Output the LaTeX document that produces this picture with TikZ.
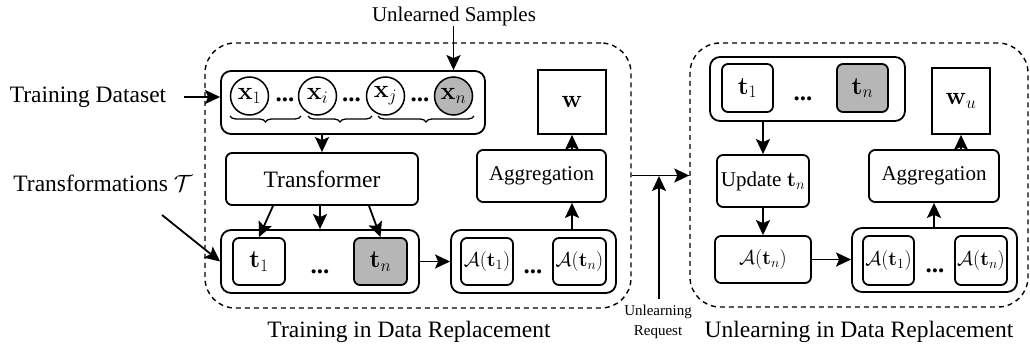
\RequirePackage{fix-cm}
\documentclass[tikz,border=0pt]{standalone}
\usepackage[no-math]{fontspec}
\setmainfont{Liberation Serif}
\usetikzlibrary{arrows.meta,calc,decorations.pathreplacing}

\definecolor{shade}{RGB}{182,182,182}

\newcommand\szL{\fontsize{23.5}{27}\selectfont}
\newcommand\szX{\fontsize{25}{29}\selectfont}
\newcommand\szM{\fontsize{21}{25}\selectfont}
\newcommand\szS{\fontsize{20}{24}\selectfont}
\newcommand\szT{\fontsize{15}{20}\selectfont}

\tikzset{
  lw/.style={line width=1.8pt},
  rbox/.style={lw, draw, rounded corners=6pt, inner sep=0pt, align=center},
  grp/.style={lw, draw, rounded corners=10pt, inner sep=0pt},
  sqbox/.style={lw, draw, inner sep=0pt},
  smp/.style={circle, draw, line width=1.5pt, minimum size=38pt, inner sep=0pt, font=\szX},
  sel/.style={fill=shade},
  dbox/.style={draw, line width=1.4pt, dash pattern=on 5pt off 4pt, rounded corners=30pt, inner sep=0pt},
  tip/.tip={Stealth[length=15pt,width=14pt,inset=3pt]},
  arr/.style={lw, -tip},
  brc/.style={line width=1.3pt, decorate, decoration={brace, mirror, amplitude=6pt}},
  dots/.style={anchor=base, inner sep=0pt, font=\szX\bfseries},
  lbl/.style={inner sep=0pt, align=center}
}

\begin{document}
\begin{tikzpicture}[x=1pt, y=-1pt]
\useasboundingbox (0,0) rectangle (1030,350);

% ---------- training phase ----------
\node[dbox, minimum width=426, minimum height=265] (trainbox) at (418,175.5) {};

\node[grp, minimum width=264, minimum height=63] (dsg) at (353,102.5) {};
\node[smp] (x1) at (249.5,96) {$\mathbf{x}_1$};
\node[smp] (xi) at (317.5,96) {$\mathbf{x}_i$};
\node[smp] (xj) at (385.5,96) {$\mathbf{x}_j$};
\node[smp, sel] (xn) at (453.5,96) {$\mathbf{x}_n$};
\node[dots] (dx1) at (285,102) {...};
\node[dots] (dx2) at (351.5,102) {...};
\node[dots] (dx3) at (420,102) {...};
\draw[brc] (230,116) -- (301,116);
\draw[brc] (308,116) -- (372,116);
\draw[brc] (378,116) -- (474,116);

\node[lbl, font=\szM] (uns) at (454,16) {Unlearned Samples};
\draw[arr] (uns.south -| xn) -- (xn |- dsg.north);

\node[lbl, font=\szL] (tds) at (88,97) {Training Dataset};
\draw[arr] ($(tds.east)+(18,0)$) -- (tds.east -| dsg.west);

\node[rbox, font=\szL, minimum width=192, minimum height=52] (tr) at (322,179) {Transformer};
\draw[arr] (tr.north |- dsg.south) -- (tr.north);

\node[grp, minimum width=198, minimum height=63] (tg) at (320,261.5) {};
\node[rbox, font=\szX, minimum width=52, minimum height=47] (t1) at (259,261.5) {$\mathbf{t}_1$};
\node[rbox, sel, font=\szX, minimum width=53, minimum height=47] (tn) at (380.5,261.5) {$\mathbf{t}_n$};
\node[dots] (dt) at (320,273) {...};

\draw[arr] ($(tr.south)+(-49,0)$) -- (t1.north);
\draw[arr] (tr.south -| tg.north) -- (tg.north);
\draw[arr] ($(tr.south)+(47,0)$) -- (tn.north);

\node[lbl, font=\szL] (tfl) at (103,183) {Transformations $\mathcal{T}$};
\coordinate (tfs) at (162,215);
\draw[arr] (tfs) -- (tg.west);

\node[grp, minimum width=165, minimum height=63] (ag) at (533.5,261.5) {};
\node[rbox, font=\szS, minimum width=52, minimum height=47] (a1) at (487,261.5) {$\mathcal{A}(\mathbf{t}_1)$};
\node[rbox, font=\szS, minimum width=53, minimum height=47] (an) at (579.5,261.5) {$\mathcal{A}(\mathbf{t}_n)$};
\node[dots] (da) at (533,273) {...};
\draw[arr] (tg.east) -- (ag.west);

\node[rbox, font=\szM, minimum width=129, minimum height=52] (agg) at (541.5,176) {Aggregation};
\node[sqbox, font=\szX, minimum width=68, minimum height=64] (w) at (572,102) {$\mathbf{w}$};
\draw[arr] (ag.north -| w.south) -- (agg.south -| w.south);
\draw[arr] (agg.north -| w.south) -- (w.south);

\node[lbl, font=\szL] (cap1) at (409,332) {Training in Data Replacement};

% ---------- unlearning request ----------
\node[dbox, minimum width=338, minimum height=264] (unlbox) at (859,175) {};
\draw[arr] (trainbox.east) -- (trainbox.east -| unlbox.west);
\coordinate (jn) at (659,176);
\node[lbl, font=\szT] (req) at (658,322) {Unlearning\\Request};
\draw[arr] ($(req.north)+(1,-6)$) -- (jn);

% ---------- unlearning phase ----------
\node[grp, minimum width=195, minimum height=64] (tg2) at (807.5,89) {};
\node[rbox, font=\szX, minimum width=51, minimum height=48] (t1r) at (747.5,88) {$\mathbf{t}_1$};
\node[rbox, sel, font=\szX, minimum width=51, minimum height=48] (tnr) at (862.5,88) {$\mathbf{t}_n$};
\node[dots] (dt2) at (803,101) {...};

\node[sqbox, font=\szX, minimum width=58, minimum height=66] (wu) at (961,101) {$\mathbf{w}_u$};

\node[rbox, font=\szM, minimum width=92, minimum height=52] (up) at (763,181) {Update $\mathbf{t}_n$};
\draw[arr] (tg2.south -| up.north) -- (up.north);

\node[rbox, font=\szS, minimum width=96, minimum height=47] (an2) at (763,259.5) {$\mathcal{A}(\mathbf{t}_n)$};
\draw[arr] (up.south) -- (an2.north);

\node[grp, minimum width=165, minimum height=64] (ag2) at (934.5,260) {};
\node[rbox, font=\szS, minimum width=51, minimum height=49] (a1r) at (888.5,260.5) {$\mathcal{A}(\mathbf{t}_1)$};
\node[rbox, font=\szS, minimum width=52, minimum height=49] (anr) at (981,260.5) {$\mathcal{A}(\mathbf{t}_n)$};
\node[dots] (da2) at (935,272) {...};
\draw[arr] (an2.east) -- (an2.east -| ag2.west);

\node[rbox, font=\szM, minimum width=130, minimum height=52] (agg2) at (934,176) {Aggregation};
\draw[arr] (ag2.north -| agg2.south) -- (agg2.south);
\draw[arr] (agg2.north -| wu.south) -- (wu.south);

\node[lbl, font=\szL] (cap2) at (859,332) {Unlearning in Data Replacement};
\end{tikzpicture}
\end{document}
